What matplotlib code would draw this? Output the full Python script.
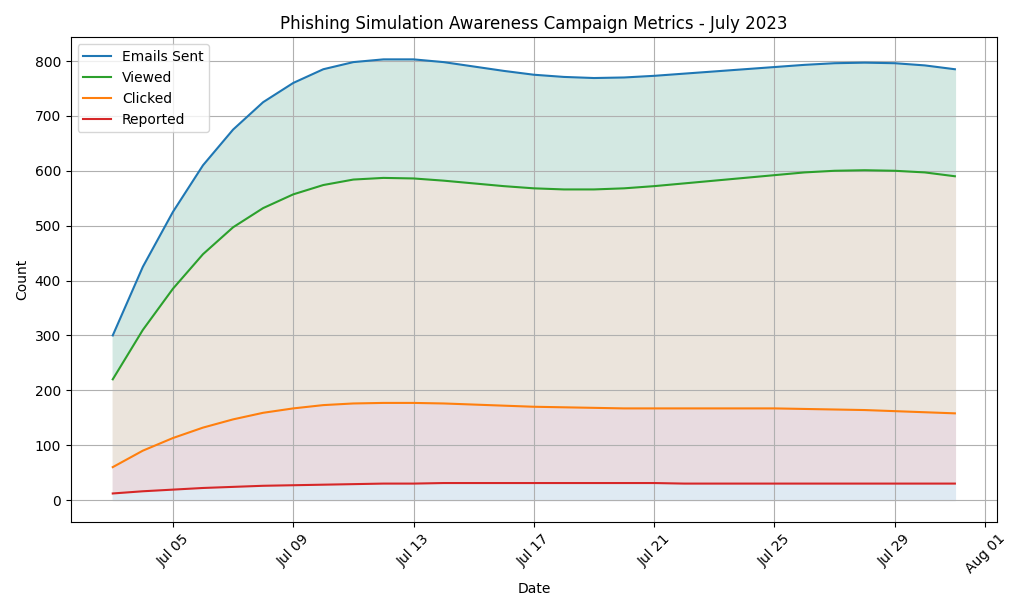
import matplotlib
matplotlib.use("Agg")
import matplotlib.pyplot as plt
import matplotlib.dates as mdates
import pandas as pd

dates = pd.date_range("2023-07-03", "2023-07-31", freq="D")
sent = [300, 425, 525, 610, 675, 725, 760, 785, 798, 803, 803, 798, 790, 782, 775, 771, 769, 770, 773, 777, 781, 785, 789, 793, 796, 797, 796, 792, 785]
viewed = [220, 310, 385, 448, 497, 532, 557, 574, 584, 587, 586, 582, 577, 572, 568, 566, 566, 568, 572, 577, 582, 587, 592, 597, 600, 601, 600, 597, 590]
clicked = [60, 90, 113, 132, 147, 159, 167, 173, 176, 177, 177, 176, 174, 172, 170, 169, 168, 167, 167, 167, 167, 167, 167, 166, 165, 164, 162, 160, 158]
reported = [12, 16, 19, 22, 24, 26, 27, 28, 29, 30, 30, 31, 31, 31, 31, 31, 31, 31, 31, 30, 30, 30, 30, 30, 30, 30, 30, 30, 30]

fig, ax = plt.subplots(figsize=(10.24, 6.11), dpi=100)
ax.fill_between(dates, viewed, sent, color="#d3e8e2")
ax.fill_between(dates, clicked, viewed, color="#ebe4dc")
ax.fill_between(dates, reported, clicked, color="#e8dbe0")
ax.fill_between(dates, 0, reported, color="#dfeaf3")
ax.plot(dates, sent, color="tab:blue", label="Emails Sent")
ax.plot(dates, viewed, color="tab:green", label="Viewed")
ax.plot(dates, clicked, color="tab:orange", label="Clicked")
ax.plot(dates, reported, color="tab:red", label="Reported")
ax.xaxis.set_major_formatter(mdates.DateFormatter("%b %d"))
plt.setp(ax.get_xticklabels(), rotation=45)
ax.set_title("Phishing Simulation Awareness Campaign Metrics - July 2023")
ax.set_xlabel("Date")
ax.set_ylabel("Count")
ax.grid(True)
ax.legend(loc="upper left")
fig.tight_layout()
fig.savefig("out.png")
